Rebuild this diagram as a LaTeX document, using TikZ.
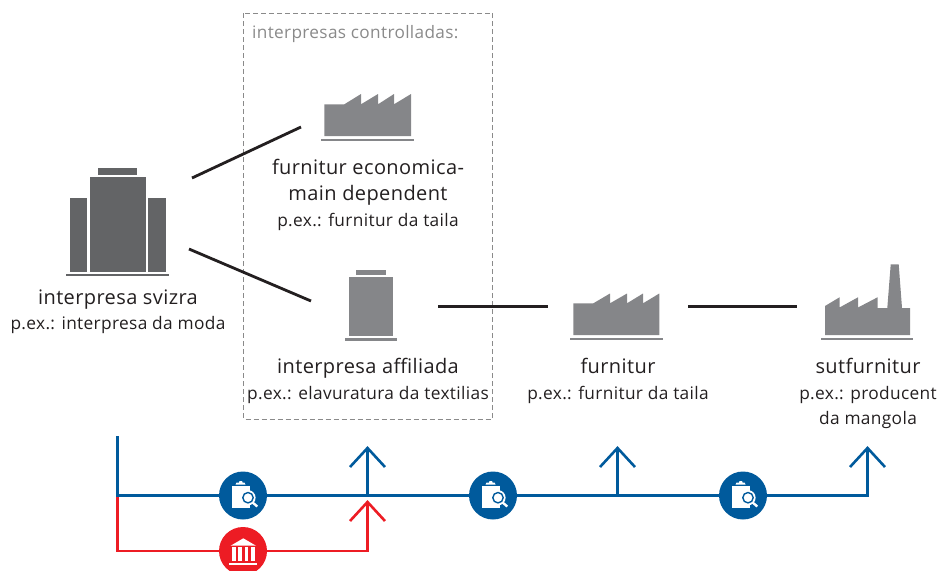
\documentclass[tikz,border=0pt]{standalone}
\usepackage{fontspec}
\setmainfont[LetterSpace=2]{Open Sans}
\definecolor{bldg}{HTML}{636466}
\definecolor{fact}{HTML}{858689}
\definecolor{sblue}{HTML}{005A9C}
\definecolor{sred}{HTML}{ED1C24}
\definecolor{ink}{HTML}{231F20}
\definecolor{dashc}{HTML}{8A8A8A}
\tikzset{
  conn/.style={line width=2.8pt,color=ink},
  bflow/.style={line width=2.6pt,color=sblue},
  rflow/.style={line width=2.6pt,color=sred},
  bighd/.style={anchor=base,font=\fontsize{20}{24}\selectfont,text=ink,inner sep=0pt,align=center},
  subhd/.style={anchor=base,font=\fontsize{17.3}{20}\selectfont,text=ink,inner sep=0pt,align=center},
  badge/.style={circle,minimum size=48pt,inner sep=0pt},
}
\newcommand{\searchicon}[1]{%
  \begin{scope}[shift={(#1)}]
    \fill[white] (-11,-9.8) rectangle (7,12.5);
    \fill[white] (-7.5,-11) -- (-6.5,-13) -- (-4,-13) -- (-3.5,-14.5) -- (-1,-14.5) -- (-0.5,-13) -- (1.5,-13) -- (2.5,-11) -- cycle;
    \draw[white,line width=2.4pt] (9,6.5) -- (14.3,11);
    \fill[white] (5,2.2) circle (7.6);
    \draw[sblue,line width=1.4pt,fill=white] (5,2.2) circle (5.2);
  \end{scope}}
\begin{document}
\begin{tikzpicture}[x=1pt,y=-1pt]
\useasboundingbox (0,0) rectangle (941,571);
% dashed frame
\draw[dashc,line width=1pt,dash pattern=on 5pt off 3pt] (243.5,13) rectangle (492.5,419);
\node[anchor=base west,inner sep=0pt,text=dashc,font=\fontsize{17.2}{20}\selectfont] (lblc) at (252,38) {interpresas controlladas:};
% main building
\fill[bldg] (98,168) rectangle (137.3,174.5);
\fill[bldg] (90,177) rectangle (146,271.7);
\fill[bldg] (70,198.3) rectangle (87.3,271.7);
\fill[bldg] (148.3,198.3) rectangle (166,271.7);
\fill[bldg] (66,273.5) rectangle (169,276.3);
% factory top
\fill[fact] (324.3,136) -- (324.3,104.3) -- (344.3,104.3) -- (361,94) -- (361,104.3) -- (378,94) -- (378,104.3) -- (394,94) -- (394,104.3) -- (411,94) -- (411,136) -- cycle;
\fill[fact] (321,138.6) rectangle (414,141.4);
% affiliate
\fill[fact] (356,270) rectangle (386,274.5);
\fill[fact] (349,277) rectangle (393,336);
\fill[fact] (345,338) rectangle (397,340.8);
% factory middle
\fill[fact] (573.3,335) -- (573.3,303.3) -- (593.3,303.3) -- (610,293.5) -- (610,303.3) -- (627,293.5) -- (627,303.3) -- (643,293.5) -- (643,303.3) -- (659.3,293.5) -- (659.3,335) -- cycle;
\fill[fact] (570,337.6) rectangle (663,340.4);
% factory with chimney
\fill[fact] (825,335) -- (825,306) -- (839.5,297.3) -- (839.5,307.5) -- (858,297.3) -- (858,307.5) -- (877.5,297.3) -- (877.5,308) -- (887.3,308) -- (890.7,264.3) -- (898.7,264.3) -- (902,308) -- (910,308) -- (910,335) -- cycle;
\fill[fact] (821,337.6) rectangle (913,340.4);
% connector ends
\coordinate (a1) at (192,178); \coordinate (a2) at (301,127);
\coordinate (b1) at (189,249); \coordinate (b2) at (311,301);
\coordinate (c1) at (438,306.4); \coordinate (c2) at (548,306.4);
\coordinate (d1) at (688,306.4); \coordinate (d2) at (797,306.4);
\draw[conn] (a1) -- (a2);
\draw[conn] (b1) -- (b2);
\draw[conn] (c1) -- (c2);
\draw[conn] (d1) -- (d2);
% labels
\node[bighd] (t1) at (118,304) {interpresa svizra};
\node[subhd] (s1) at (118,329) {p.ex.: interpresa da moda};
\node[bighd] (t2) at (368,174) {furnitur economica-};
\node[bighd] (t3) at (368,200) {main dependent};
\node[subhd] (s2) at (368,226) {p.ex.: furnitur da taila};
\node[bighd] (t4) at (368,373) {interpresa affiliada};
\node[subhd] (s4) at (368,399) {p.ex.: elavuratura da textilias};
\node[bighd] (t5) at (618,373) {furnitur};
\node[subhd] (s5) at (618,399) {p.ex.: furnitur da taila};
\node[bighd] (t6) at (868,373) {sutfurnitur};
\node[subhd] (s6) at (868,399) {p.ex.: producent};
\node[subhd] (s7) at (868,424) {da mangola};
% flows
\coordinate (bs) at (117.5,436); \coordinate (bc) at (117.5,495.5);
\coordinate (be) at (867.5,495.5);
\coordinate (ba1) at (367.5,448); \coordinate (bb1) at (367.5,495.5);
\coordinate (ba2) at (617.5,448); \coordinate (bb2) at (617.5,495.5);
\coordinate (ba3) at (867.5,448);
\coordinate (rb) at (117.5,551); \coordinate (rc) at (367.5,551); \coordinate (ra) at (367.5,502);
\draw[rflow] (bc) -- (rb) -- (rc) -- (ra);
\draw[rflow,miter limit=10] (350,521) -- (ra) -- (385,521);
\draw[bflow] (bs) -- (bc) -- (be) -- (ba3);
\draw[bflow] (bb1) -- (ba1);
\draw[bflow] (bb2) -- (ba2);
\draw[bflow] (350,467) -- (ba1) -- (385,467);
\draw[bflow] (600,467) -- (ba2) -- (635,467);
\draw[bflow] (850,467) -- (ba3) -- (885,467);
% badges
\node[badge,fill=sblue] (i1) at (243,495.5) {};
\node[badge,fill=sblue] (i2) at (493,495.5) {};
\node[badge,fill=sblue] (i3) at (743,495.5) {};
\begin{scope}
\clip (0,0) rectangle (941,570);
\node[badge,fill=sred] (i4) at (243,551) {};
\end{scope}
\searchicon{i1}\searchicon{i2}\searchicon{i3}
% temple
\begin{scope}[shift={(i4)}]
\fill[white] (0.3,-12.7) -- (13,-5.3) -- (-12.4,-5.3) -- cycle;
\foreach \cl/\cr in {-11/-7,-4.7/-1.3,2/5.3,7.7/11.7} \fill[white] (\cl,-3.7) rectangle (\cr,9.7);
\fill[white] (-13.7,12.3) rectangle (13.7,14);
\end{scope}
\end{tikzpicture}
\end{document}
